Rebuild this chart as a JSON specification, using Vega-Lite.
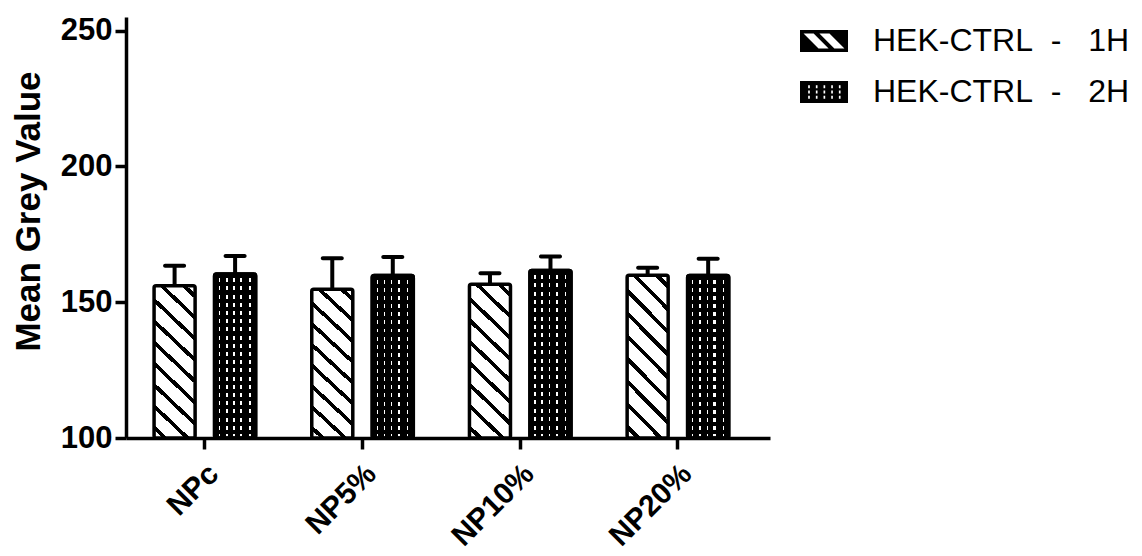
{
  "$schema": "https://vega.github.io/schema/vega-lite/v6.json",
  "width": 644,
  "height": 421,
  "autosize": {"type": "none"},
  "padding": {"left": 126, "top": 17, "right": 372, "bottom": 118},
  "background": "white",
  "config": {"font": "Liberation Sans", "view": {"stroke": null}},
  "data": {
    "values": [
      {"group": "NPc", "time": "1H", "label": "HEK-CTRL\u00a0\u00a0-\u00a0\u00a0\u00a01H", "mean": 156.1, "upper": 163.4},
      {"group": "NP5%", "time": "1H", "label": "HEK-CTRL\u00a0\u00a0-\u00a0\u00a0\u00a01H", "mean": 154.8, "upper": 166.2},
      {"group": "NP10%", "time": "1H", "label": "HEK-CTRL\u00a0\u00a0-\u00a0\u00a0\u00a01H", "mean": 156.6, "upper": 160.7},
      {"group": "NP20%", "time": "1H", "label": "HEK-CTRL\u00a0\u00a0-\u00a0\u00a0\u00a01H", "mean": 159.9, "upper": 162.7},
      {"group": "NPc", "time": "2H", "label": "HEK-CTRL\u00a0\u00a0-\u00a0\u00a0\u00a02H", "mean": 160.4, "upper": 167.0},
      {"group": "NP5%", "time": "2H", "label": "HEK-CTRL\u00a0\u00a0-\u00a0\u00a0\u00a02H", "mean": 159.8, "upper": 166.6},
      {"group": "NP10%", "time": "2H", "label": "HEK-CTRL\u00a0\u00a0-\u00a0\u00a0\u00a02H", "mean": 161.7, "upper": 166.8},
      {"group": "NP20%", "time": "2H", "label": "HEK-CTRL\u00a0\u00a0-\u00a0\u00a0\u00a02H", "mean": 159.8, "upper": 166.0}
    ]
  },
  "encoding": {
    "x": {
      "field": "group",
      "type": "nominal",
      "sort": ["NPc", "NP5%", "NP10%", "NP20%"],
      "scale": {"paddingInner": 0, "paddingOuter": 0.042, "align": 0},
      "axis": {
        "title": null,
        "labelAngle": -45,
        "labelAlign": "right",
        "labelBaseline": "middle",
        "labelFontSize": 30,
        "labelFontWeight": "bold",
        "labelColor": "black",
        "labelPadding": 20,
        "labelOffset": 9,
        "labelLimit": 0,
        "domainColor": "black",
        "domainWidth": 3.5,
        "tickColor": "black",
        "tickWidth": 3.5,
        "tickSize": 11
      }
    },
    "xOffset": {
      "field": "time",
      "type": "nominal",
      "scale": {"domain": ["1H", "2H"], "paddingInner": 0.322, "paddingOuter": 0.464}
    },
    "y": {
      "field": "mean",
      "type": "quantitative",
      "scale": {"domain": [100, 255], "nice": false, "zero": false},
      "axis": {
        "title": "Mean Grey Value",
        "values": [100, 150, 200, 250],
        "grid": false,
        "domainColor": "black",
        "domainWidth": 3.5,
        "tickColor": "black",
        "tickWidth": 3.5,
        "tickSize": 11,
        "labelFontSize": 31,
        "labelFontWeight": "bold",
        "labelColor": "black",
        "labelPadding": 3,
        "titleFontSize": 35,
        "titleFontWeight": "bold",
        "titleColor": "black",
        "titleX": -98,
        "titleY": 194,
        "titleBaseline": "middle"
      }
    }
  },
  "layer": [
    {
      "mark": {"type": "point", "filled": true, "opacity": 1, "size": 30, "strokeWidth": 0},
      "encoding": {
        "y": {"datum": 120},
        "fill": {
          "field": "label",
          "type": "nominal",
          "scale": {
            "domain": ["HEK-CTRL\u00a0\u00a0-\u00a0\u00a0\u00a01H", "HEK-CTRL\u00a0\u00a0-\u00a0\u00a0\u00a02H"],
            "range": ["black", "black"]
          },
          "legend": {
            "title": null,
            "orient": "none",
            "legendX": 674,
            "legendY": 0,
            "padding": 0,
            "rowPadding": 11,
            "symbolSize": 2304,
            "symbolStrokeWidth": 0,
            "symbolOpacity": 1,
            "labelFontSize": 32,
            "labelFont": "Liberation Sans",
            "labelColor": "black",
            "labelOffset": 25,
            "labelLimit": 0
          }
        },
        "shape": {
          "field": "label",
          "type": "nominal",
          "scale": {
            "domain": ["HEK-CTRL\u00a0\u00a0-\u00a0\u00a0\u00a01H", "HEK-CTRL\u00a0\u00a0-\u00a0\u00a0\u00a02H"],
            "range": [
              "M-1,-0.458H1V0.458H-1Z M-0.852,-0.312L-0.228,0.312L0.192,0.312L-0.432,-0.312Z M-0.192,-0.312L0.432,0.312L0.852,0.312L0.228,-0.312Z",
              "M-1,-0.458H1V0.458H-1Z M-0.66,-0.28V-0.16H-0.59V-0.28Z M-0.34,-0.28V-0.16H-0.27V-0.28Z M-0.02,-0.28V-0.16H0.05V-0.28Z M0.3,-0.28V-0.16H0.37V-0.28Z M0.62,-0.28V-0.16H0.69V-0.28Z M-0.66,-0.06V0.06H-0.59V-0.06Z M-0.34,-0.06V0.06H-0.27V-0.06Z M-0.02,-0.06V0.06H0.05V-0.06Z M0.3,-0.06V0.06H0.37V-0.06Z M0.62,-0.06V0.06H0.69V-0.06Z M-0.66,0.16V0.28H-0.59V0.16Z M-0.34,0.16V0.28H-0.27V0.16Z M-0.02,0.16V0.28H0.05V0.16Z M0.3,0.16V0.28H0.37V0.16Z M0.62,0.16V0.28H0.69V0.16Z"
            ]
          },
          "legend": {
            "title": null,
            "orient": "none",
            "legendX": 674,
            "legendY": 0,
            "padding": 0,
            "rowPadding": 11,
            "symbolSize": 2304,
            "symbolStrokeWidth": 0,
            "symbolOpacity": 1,
            "labelFontSize": 32,
            "labelFont": "Liberation Sans",
            "labelColor": "black",
            "labelOffset": 25,
            "labelLimit": 0
          }
        }
      }
    },
    {
      "transform": [{"filter": "datum.time === '1H'"}],
      "mark": {
        "type": "bar", "stroke": "black", "strokeWidth": 3.5, "cornerRadius": 2,
        "fill": {"gradient": "linear", "x1": 0, "y1": 1, "x2": 0.302, "y2": -0.178, "stops": [
          {"offset": 0, "color": "white"},
          {"offset": 0.0421, "color": "white"}, {"offset": 0.0421, "color": "black"}, {"offset": 0.0691, "color": "black"}, {"offset": 0.0691, "color": "white"},
          {"offset": 0.1532, "color": "white"}, {"offset": 0.1532, "color": "black"}, {"offset": 0.1802, "color": "black"}, {"offset": 0.1802, "color": "white"},
          {"offset": 0.2643, "color": "white"}, {"offset": 0.2643, "color": "black"}, {"offset": 0.2913, "color": "black"}, {"offset": 0.2913, "color": "white"},
          {"offset": 0.3754, "color": "white"}, {"offset": 0.3754, "color": "black"}, {"offset": 0.4024, "color": "black"}, {"offset": 0.4024, "color": "white"},
          {"offset": 0.4865, "color": "white"}, {"offset": 0.4865, "color": "black"}, {"offset": 0.5135, "color": "black"}, {"offset": 0.5135, "color": "white"},
          {"offset": 0.5976, "color": "white"}, {"offset": 0.5976, "color": "black"}, {"offset": 0.6246, "color": "black"}, {"offset": 0.6246, "color": "white"},
          {"offset": 0.7087, "color": "white"}, {"offset": 0.7087, "color": "black"}, {"offset": 0.7357, "color": "black"}, {"offset": 0.7357, "color": "white"},
          {"offset": 0.8198, "color": "white"}, {"offset": 0.8198, "color": "black"}, {"offset": 0.8468, "color": "black"}, {"offset": 0.8468, "color": "white"},
          {"offset": 0.9309, "color": "white"}, {"offset": 0.9309, "color": "black"}, {"offset": 0.9579, "color": "black"}, {"offset": 0.9579, "color": "white"},
          {"offset": 1, "color": "white"}
        ]}
      },
      "encoding": {"y2": {"datum": 100}}
    },
    {
      "transform": [{"filter": "datum.time === '2H'"}],
      "mark": {
        "type": "bar", "stroke": "black", "strokeWidth": 3.5, "cornerRadius": 2,
        "fill": {"gradient": "linear", "x1": 0, "y1": 0, "x2": 1, "y2": 0, "stops": [
          {"offset": 0, "color": "black"},
          {"offset": 0.11, "color": "black"}, {"offset": 0.11, "color": "white"}, {"offset": 0.14, "color": "white"}, {"offset": 0.14, "color": "black"},
          {"offset": 0.28, "color": "black"}, {"offset": 0.28, "color": "white"}, {"offset": 0.32, "color": "white"}, {"offset": 0.32, "color": "black"},
          {"offset": 0.46, "color": "black"}, {"offset": 0.46, "color": "white"}, {"offset": 0.49, "color": "white"}, {"offset": 0.49, "color": "black"},
          {"offset": 0.63, "color": "black"}, {"offset": 0.63, "color": "white"}, {"offset": 0.68, "color": "white"}, {"offset": 0.68, "color": "black"},
          {"offset": 0.85, "color": "black"}, {"offset": 0.85, "color": "white"}, {"offset": 0.88, "color": "white"}, {"offset": 0.88, "color": "black"},
          {"offset": 1, "color": "black"}
        ]}
      },
      "encoding": {"y2": {"datum": 100}}
    },
    {
      "transform": [{"filter": "datum.time === '2H'"}],
      "mark": {
        "type": "bar", "stroke": "black", "strokeWidth": 3.5, "cornerRadius": 2,
        "fill": {"gradient": "linear", "x1": 0, "y1": 0, "x2": 0, "y2": 1, "stops": [
          {"offset": 0, "color": "#000"}, {"offset": 0.026, "color": "#000"}, {"offset": 0.026, "color": "rgba(0,0,0,0)"}, {"offset": 0.05, "color": "rgba(0,0,0,0)"},
          {"offset": 0.05, "color": "#000"}, {"offset": 0.076, "color": "#000"}, {"offset": 0.076, "color": "rgba(0,0,0,0)"}, {"offset": 0.1, "color": "rgba(0,0,0,0)"},
          {"offset": 0.1, "color": "#000"}, {"offset": 0.126, "color": "#000"}, {"offset": 0.126, "color": "rgba(0,0,0,0)"}, {"offset": 0.15, "color": "rgba(0,0,0,0)"},
          {"offset": 0.15, "color": "#000"}, {"offset": 0.176, "color": "#000"}, {"offset": 0.176, "color": "rgba(0,0,0,0)"}, {"offset": 0.2, "color": "rgba(0,0,0,0)"},
          {"offset": 0.2, "color": "#000"}, {"offset": 0.226, "color": "#000"}, {"offset": 0.226, "color": "rgba(0,0,0,0)"}, {"offset": 0.25, "color": "rgba(0,0,0,0)"},
          {"offset": 0.25, "color": "#000"}, {"offset": 0.276, "color": "#000"}, {"offset": 0.276, "color": "rgba(0,0,0,0)"}, {"offset": 0.3, "color": "rgba(0,0,0,0)"},
          {"offset": 0.3, "color": "#000"}, {"offset": 0.326, "color": "#000"}, {"offset": 0.326, "color": "rgba(0,0,0,0)"}, {"offset": 0.35, "color": "rgba(0,0,0,0)"},
          {"offset": 0.35, "color": "#000"}, {"offset": 0.376, "color": "#000"}, {"offset": 0.376, "color": "rgba(0,0,0,0)"}, {"offset": 0.4, "color": "rgba(0,0,0,0)"},
          {"offset": 0.4, "color": "#000"}, {"offset": 0.426, "color": "#000"}, {"offset": 0.426, "color": "rgba(0,0,0,0)"}, {"offset": 0.45, "color": "rgba(0,0,0,0)"},
          {"offset": 0.45, "color": "#000"}, {"offset": 0.476, "color": "#000"}, {"offset": 0.476, "color": "rgba(0,0,0,0)"}, {"offset": 0.5, "color": "rgba(0,0,0,0)"},
          {"offset": 0.5, "color": "#000"}, {"offset": 0.526, "color": "#000"}, {"offset": 0.526, "color": "rgba(0,0,0,0)"}, {"offset": 0.55, "color": "rgba(0,0,0,0)"},
          {"offset": 0.55, "color": "#000"}, {"offset": 0.576, "color": "#000"}, {"offset": 0.576, "color": "rgba(0,0,0,0)"}, {"offset": 0.6, "color": "rgba(0,0,0,0)"},
          {"offset": 0.6, "color": "#000"}, {"offset": 0.626, "color": "#000"}, {"offset": 0.626, "color": "rgba(0,0,0,0)"}, {"offset": 0.65, "color": "rgba(0,0,0,0)"},
          {"offset": 0.65, "color": "#000"}, {"offset": 0.676, "color": "#000"}, {"offset": 0.676, "color": "rgba(0,0,0,0)"}, {"offset": 0.7, "color": "rgba(0,0,0,0)"},
          {"offset": 0.7, "color": "#000"}, {"offset": 0.726, "color": "#000"}, {"offset": 0.726, "color": "rgba(0,0,0,0)"}, {"offset": 0.75, "color": "rgba(0,0,0,0)"},
          {"offset": 0.75, "color": "#000"}, {"offset": 0.776, "color": "#000"}, {"offset": 0.776, "color": "rgba(0,0,0,0)"}, {"offset": 0.8, "color": "rgba(0,0,0,0)"},
          {"offset": 0.8, "color": "#000"}, {"offset": 0.826, "color": "#000"}, {"offset": 0.826, "color": "rgba(0,0,0,0)"}, {"offset": 0.85, "color": "rgba(0,0,0,0)"},
          {"offset": 0.85, "color": "#000"}, {"offset": 0.876, "color": "#000"}, {"offset": 0.876, "color": "rgba(0,0,0,0)"}, {"offset": 0.9, "color": "rgba(0,0,0,0)"},
          {"offset": 0.9, "color": "#000"}, {"offset": 0.926, "color": "#000"}, {"offset": 0.926, "color": "rgba(0,0,0,0)"}, {"offset": 0.95, "color": "rgba(0,0,0,0)"},
          {"offset": 0.95, "color": "#000"}, {"offset": 0.976, "color": "#000"}, {"offset": 0.976, "color": "rgba(0,0,0,0)"}, {"offset": 1, "color": "rgba(0,0,0,0)"}
        ]}
      },
      "encoding": {"y2": {"datum": 100}}
    },
    {
      "mark": {"type": "rule", "color": "black", "strokeWidth": 4},
      "encoding": {"y2": {"field": "upper"}}
    },
    {
      "mark": {"type": "tick", "color": "black", "size": 23, "thickness": 4, "cornerRadius": 2, "opacity": 1},
      "encoding": {
        "y": {"field": "upper", "type": "quantitative", "title": "Mean Grey Value"}
      }
    }
  ]
}
